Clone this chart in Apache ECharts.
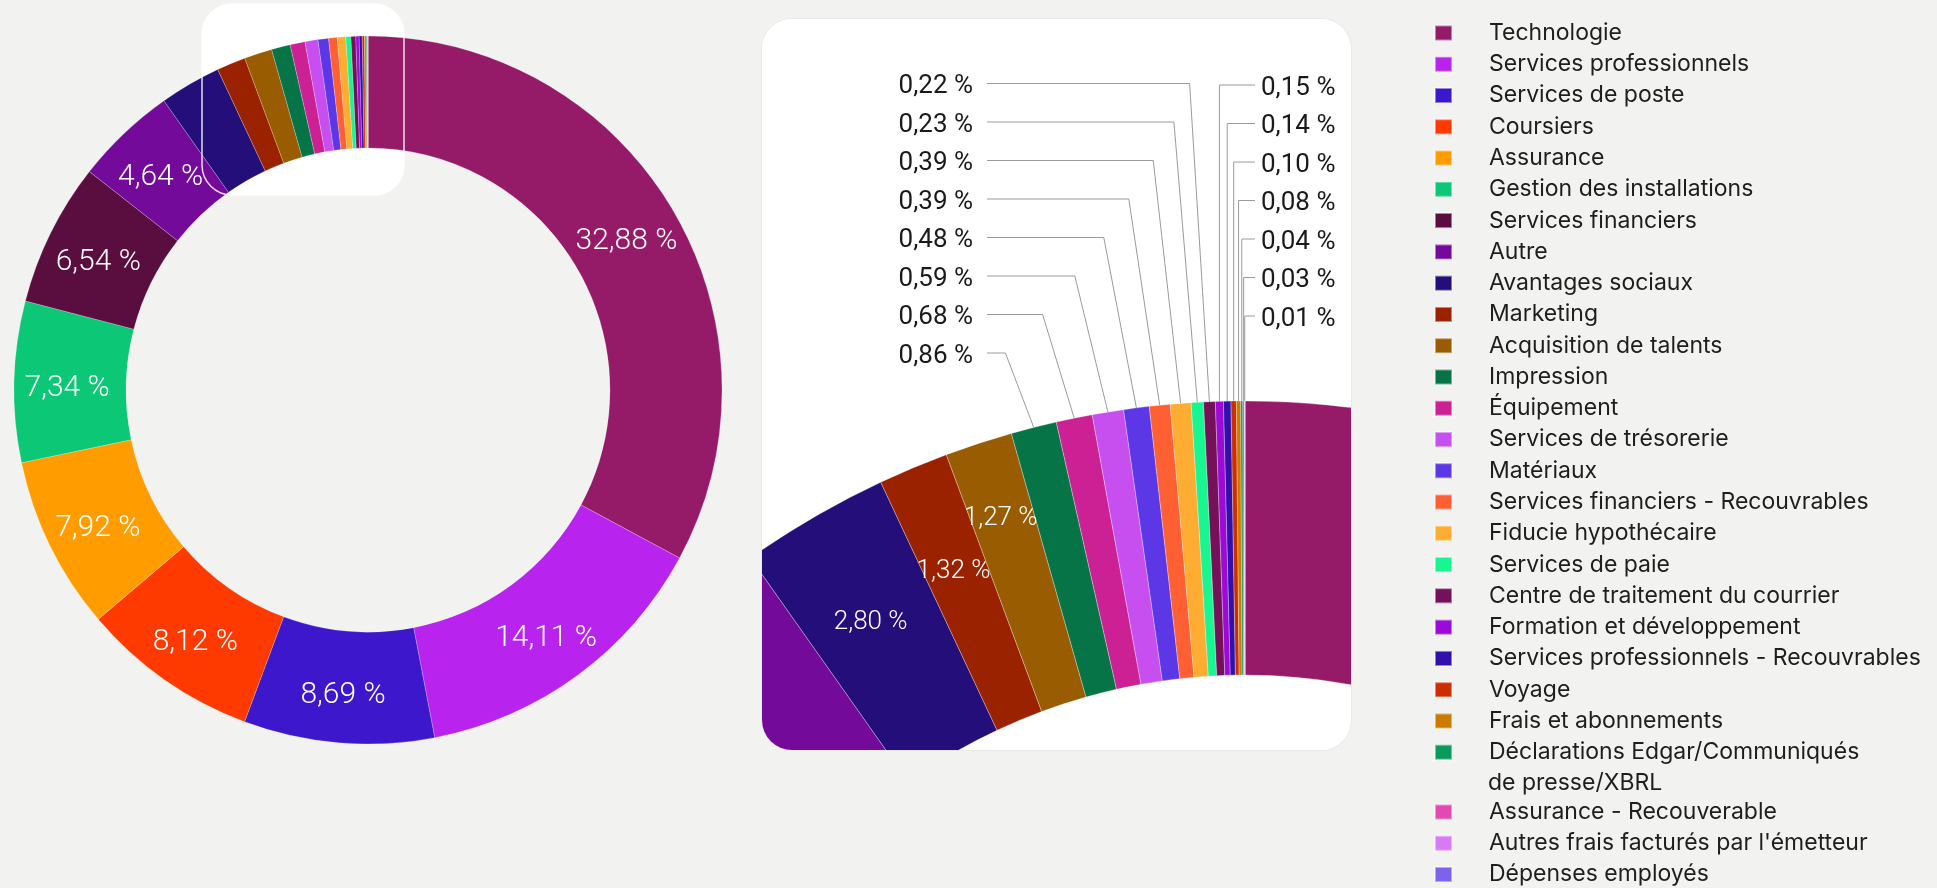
<!DOCTYPE html>
<html><head><meta charset="utf-8">
<script src="https://cdn.jsdelivr.net/npm/echarts@6/dist/echarts.min.js"></script>
<style>
html,body{margin:0;padding:0;background:#f2f2f0;width:1937px;height:888px;overflow:hidden}
#main{position:absolute;left:0;top:0;width:1937px;height:888px}
#zoom{position:absolute;left:762px;top:19px;width:589px;height:731px;border-radius:30px;overflow:hidden;background:#fff;box-shadow:0 0 0 1px rgba(0,0,0,0.04)}
#zoomChart{width:589px;height:731px}
</style></head><body>
<div id="main"></div>
<div id="zoom"><div id="zoomChart"></div></div>
<script>
const categories = [
  'Technologie','Services professionnels','Services de poste','Coursiers','Assurance',
  'Gestion des installations','Services financiers','Autre','Avantages sociaux','Marketing',
  'Acquisition de talents','Impression','Équipement','Services de trésorerie','Matériaux',
  'Services financiers - Recouvrables','Fiducie hypothécaire','Services de paie',
  'Centre de traitement du courrier','Formation et développement',
  'Services professionnels - Recouvrables','Voyage','Frais et abonnements',
  'Déclarations Edgar/Communiqués de presse/XBRL','Assurance - Recouverable',
  "Autres frais facturés par l'émetteur",'Dépenses employés'
];
const values = [32.88,14.11,8.69,8.12,7.92,7.34,6.54,4.64,2.80,1.32,1.27,0.86,0.68,0.59,0.48,
  0.39,0.39,0.23,0.22,0.15,0.14,0.10,0.08,0.04,0.03,0.01,0];
const colors = ['#951a68','#b823ee','#3d17cc','#ff3a00','#ff9c00','#0bc776','#5a0e40','#730a99',
  '#230e7a','#9a2200','#995c00','#077448','#cb2195','#c74ff0','#5b37e6','#ff6033','#ffac33',
  '#19f590','#741159','#9b0ad6','#3111aa','#cc2e00','#cc7a00','#0a9a5e','#e34aaf','#d87af5','#7c62ec'];
const legendFirstLine = {'Déclarations Edgar/Communiqués de presse/XBRL':'Déclarations Edgar/Communiqués'};
const legendSecondLine = 'de presse/XBRL';

const fmt = v => v.toFixed(2).replace('.', ',') + ' %';
const data = categories.map((n, i) => ({name: n, value: values[i], itemStyle: {color: colors[i]}}));

const legendText = {fontFamily: 'Inter', fontSize: 23, color: '#1e1e1e', lineHeight: 26, padding: [0, 0, 0, 32]};

// ---------- main chart ----------
const main = echarts.init(document.getElementById('main'), null, {renderer: 'canvas'});
main.setOption({
  animation: false,
  backgroundColor: '#f2f2f0',
  graphic: [
    {type: 'rect', z: 0, shape: {x: 202, y: 4, width: 202, height: 191, r: 30}, style: {fill: '#ffffff'}},
    {type: 'rect', z: 100, shape: {x: 202, y: 4, width: 202, height: 191, r: 30},
      style: {fill: 'none', stroke: 'rgba(255,255,255,0.85)', lineWidth: 1.5}},
    {type: 'text', z: 100, x: 1488, y: 783, style: {text: legendSecondLine, fill: '#1e1e1e',
      font: '23px Inter', verticalAlign: 'middle'}}
  ],
  legend: [
    {orient: 'vertical', left: 1434, top: 20, padding: 0, itemWidth: 17, itemHeight: 15, itemGap: 5.27,
      selectedMode: false, icon: 'rect', data: categories.slice(0, 24),
      formatter: n => legendFirstLine[n] || n, textStyle: legendText},
    {orient: 'vertical', left: 1434, top: 799, padding: 0, itemWidth: 17, itemHeight: 15, itemGap: 5.27,
      selectedMode: false, icon: 'rect', data: categories.slice(24), textStyle: legendText}
  ],
  series: [{
    type: 'pie', center: [368, 390], radius: [242, 354], startAngle: 90, clockwise: true,
    avoidLabelOverlap: false, silent: true,
    itemStyle: {borderColor: 'rgba(255,255,255,0.45)', borderWidth: 0.5},
    label: {show: true, position: 'inside', color: '#fff', fontFamily: 'Roboto', fontWeight: 300, fontSize: 30,
      offset: [0, 6], formatter: p => p.value >= 3 ? fmt(p.value) : ''},
    labelLine: {show: false},
    data: data
  }]
});

// ---------- zoom panel ----------
const ZC = [483, 1240], ZR = [584, 858];
const total = values.reduce((a, b) => a + b, 0);
const mid = []; let cum = 0;
values.forEach(v => { mid.push(2 * Math.PI * (cum + v / 2) / total); cum += v; });
const small = values.map((v, i) => i).filter(i => values[i] > 0 && values[i] < 1);
const leftSide = small.filter(i => (2 * Math.PI - mid[i]) > 2 * Math.PI / 180).sort((a, b) => mid[a] - mid[b]);
const rightSide = small.filter(i => leftSide.indexOf(i) < 0).sort((a, b) => mid[a] - mid[b]);
const STEP = 38.5;
const placed = {};
const PAD = 24;
function overlaps(a, b) {
  return !(a.x + a.w + PAD < b.x || b.x + b.w + PAD < a.x || a.y + a.h + PAD < b.y || b.y + b.h + PAD < a.y);
}

const zoom = echarts.init(document.getElementById('zoomChart'), null, {renderer: 'canvas'});
zoom.setOption({
  animation: false,
  backgroundColor: '#ffffff',
  series: [{
    type: 'pie', center: ZC, radius: ZR, startAngle: 90, clockwise: true,
    avoidLabelOverlap: false, silent: true,
    itemStyle: {borderColor: 'rgba(255,255,255,0.5)', borderWidth: 0.6},
    data: data.map((d, i) => {
      const v = values[i];
      if (v >= 1 && v < 3) return Object.assign({}, d, {label: {show: true, position: 'inside', color: '#fff',
        fontFamily: 'Roboto', fontWeight: 300, fontSize: 26}, labelLine: {show: false}});
      if (v > 0 && v < 1) return Object.assign({}, d, {label: {show: true, position: 'outside', color: '#1a1a1a',
        fontFamily: 'Roboto', fontWeight: 400, fontSize: 26},
        labelLine: {show: true, lineStyle: {color: '#9a9a9a', width: 1}}});
      return Object.assign({}, d, {label: {show: false}, labelLine: {show: false}});
    }),
    label: {formatter: p => fmt(p.value)},
    labelLayout: p => {
      const i = p.dataIndex;
      const a = mid[i];
      const li = leftSide.indexOf(i), ri = rightSide.indexOf(i);
      if (li < 0 && ri < 0) {
        if (!(values[i] >= 1 && values[i] < 3)) return {};
        const w = p.labelRect.width, h = p.labelRect.height;
        let r = 745, box;
        for (;;) {
          const x = ZC[0] + r * Math.sin(a), y = ZC[1] - r * Math.cos(a);
          box = {x: x - w / 2, y: y - h / 2, w: w, h: h, cx: x, cy: y};
          const hit = Object.keys(placed).some(k => +k < i && overlaps(box, placed[k]));
          if (!hit || r > 900) break;
          r += 3;
        }
        placed[i] = box;
        return {x: box.cx, y: box.cy + 8, align: 'center', verticalAlign: 'middle'};
      }
      const ex = ZC[0] + ZR[1] * Math.sin(a), ey = ZC[1] - ZR[1] * Math.cos(a);
      if (li >= 0) {
        const ly = 334 - li * STEP;
        const elx = ex + 1.5 * Math.tan(a) * (ey - ly);
        return {x: 211, y: ly + 3, align: 'right', verticalAlign: 'middle',
          labelLinePoints: [[ex, ey], [elx, ly], [225, ly]]};
      }
      const ly = 66 + ri * STEP;
      return {x: 499, y: ly + 3, align: 'left', verticalAlign: 'middle',
        labelLinePoints: [[ex, ey], [ex, ly], [493, ly]]};
    }
  }]
});
</script>
</body></html>
